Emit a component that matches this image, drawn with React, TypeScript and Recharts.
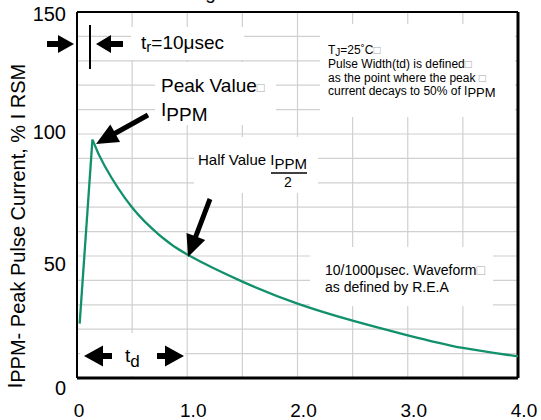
import React from "react";
import { LineChart, Line, XAxis, YAxis, CartesianGrid, ReferenceLine } from "recharts";

// pulse waveform: time in ms, current in % of IPPM
// rising edge (straight) and decaying tail (smooth) share the peak point
const riseTime = [0.024, 0.14];
const riseCurrent = [22.3, 97.7];
const decayTime = [0.14, 0.25, 0.5, 0.75, 1.0, 1.5, 2.0, 2.5, 3.0, 3.5, 4.0];
const decayCurrent = [97.7, 87, 69.9, 58.5, 50.6, 39.5, 30.5, 23.5, 17.5, 12.3, 8.9];

const xTicks = [0, 0.5, 1, 1.5, 2, 2.5, 3, 3.5, 4];
const xLabels = ["0", "", "1.0", "", "2.0", "", "3.0", "", "4.0"];
const yTicks = [0, 10, 20, 30, 40, 50, 60, 70, 80, 90, 100, 110, 120, 130, 140, 150];
const yLabels = ["0", "50", "100", "150"];

const riseData = riseTime.map((t, i) => ({ t, pct: riseCurrent[i] }));
const decayData = decayTime.map((t, i) => ({ t, pct: decayCurrent[i] }));

const FONT = "Liberation Sans, Arial, sans-serif";
const CURVE = "#11906c";
const GRID = "#d0d0d0";

// the labels in the original sit a little off their grid lines
const yNudge: Record<string, number> = { "0": 10, "50": 8, "100": -2, "150": 2 };

const XTick = (props: any) => {
  const i = xTicks.indexOf(props.payload.value);
  const label = xLabels[i];
  if (!label) return <g />;
  return (
    <text x={props.x + (label === "0" ? 2 : 6)} y={417} textAnchor="middle" fontSize={19} fontFamily={FONT} fill="#000">
      {label}
    </text>
  );
};

const YTick = (props: any) => {
  const label = String(props.payload.value);
  if (!yLabels.includes(label)) return <g />;
  return (
    <text x={66} y={props.y + yNudge[label]} dy="0.35em" textAnchor="end" fontSize={20} fontFamily={FONT} fill="#000">
      {label}
    </text>
  );
};

// filled block arrow from tail (x1,y1) to tip (x2,y2)
function arrow(x1: number, y1: number, x2: number, y2: number, shaft: number, headLen: number, headW: number) {
  const dx = x2 - x1;
  const dy = y2 - y1;
  const len = Math.hypot(dx, dy);
  const ux = dx / len;
  const uy = dy / len;
  const nx = -uy;
  const ny = ux;
  const bx = x2 - ux * headLen;
  const by = y2 - uy * headLen;
  const p = (x: number, y: number) => `${x.toFixed(1)},${y.toFixed(1)}`;
  return [
    p(x1 + nx * shaft / 2, y1 + ny * shaft / 2),
    p(bx + nx * shaft / 2, by + ny * shaft / 2),
    p(bx + nx * headW / 2, by + ny * headW / 2),
    p(x2, y2),
    p(bx - nx * headW / 2, by - ny * headW / 2),
    p(bx - nx * shaft / 2, by - ny * shaft / 2),
    p(x1 - nx * shaft / 2, y1 - ny * shaft / 2),
  ].join(" ");
}

function Annotations() {
  return (
    <svg width={541} height={420} style={{ position: "absolute", left: 0, top: 0, pointerEvents: "none", overflow: "hidden" }} fontFamily={FONT}>
      {/* title, only its descender shows inside the picture */}
      <text x={302} y={-1} textAnchor="middle" fontSize={19} fill="#000">
        Figure 3 - Pulse Waveform
      </text>

      {/* white boxes behind the notes */}
      <rect x={131} y={27} width={113} height={33} fill="#fff" />
      <rect x={155} y={62} width={121} height={63} fill="#fff" />
      <rect x={194} y={137} width={124} height={56} fill="#fff" />
      <rect x={320} y={24} width={195} height={93} fill="#fff" />
      <rect x={310} y={247} width={183} height={59} fill="#fff" />
      <rect x={80} y={333} width={105} height={43} fill="#fff" />

      {/* rise time marker */}
      <polygon points={arrow(47, 44, 74, 44, 6, 16, 18)} fill="#000" />
      <line x1={90} y1={25} x2={90} y2={69} stroke="#000" strokeWidth={2} />
      <polygon points={arrow(123, 44, 96, 44, 6, 15, 18)} fill="#000" />
      <text x={141} y={49} fontSize={19} fill="#000">
        t<tspan fontSize={15} dy={3}>r</tspan>
        <tspan dy={-3}>=10μsec</tspan>
      </text>

      {/* peak value */}
      <text x={161} y={92} fontSize={19} fill="#000">
        Peak Value<tspan fontSize={13} fill="#aaa">□</tspan>
      </text>
      <text x={161} y={116} fontSize={19} fill="#000">
        I<tspan dy={5}>PPM</tspan>
      </text>
      <polygon points={arrow(148, 115, 96, 144, 5, 22, 20)} fill="#000" />

      {/* half value */}
      <text x={198} y={165} fontSize={15} fill="#000">
        Half Value I<tspan dy={4}>PPM</tspan>
      </text>
      <line x1={271} y1={173} x2={307} y2={173} stroke="#000" strokeWidth={1.3} />
      <text x={288} y={187} textAnchor="middle" fontSize={14} fill="#000">2</text>
      <polygon points={arrow(210, 199, 188, 257, 5, 22, 20)} fill="#000" />

      {/* conditions */}
      <text x={328} y={54} fontSize={12} fill="#000">
        T<tspan fontSize={10} dy={2}>J</tspan>
        <tspan dy={-2}>=25˚C</tspan>
        <tspan fill="#aaa">□</tspan>
      </text>
      <text x={328} y={68} fontSize={12} fill="#000">
        Pulse Width(td) is defined<tspan fill="#aaa">□</tspan>
      </text>
      <text x={328} y={82} fontSize={12} fill="#000">
        as the point where the peak <tspan fill="#aaa">□</tspan>
      </text>
      <text x={328} y={95} fontSize={12} fill="#000">
        current decays to 50% of I<tspan fontSize={13} dy={2}>PPM</tspan>
      </text>

      {/* waveform note */}
      <text x={325} y={275} fontSize={14} fill="#000">
        10/1000μsec. Waveform<tspan fill="#aaa">□</tspan>
      </text>
      <text x={325} y={291.5} fontSize={14} fill="#000">
        as defined by R.E.A
      </text>

      {/* pulse width marker */}
      <polygon points={arrow(112, 356, 84, 356, 6, 19, 21)} fill="#000" />
      <text x={125} y={362} fontSize={19} fill="#000">
        t<tspan fontSize={17} dy={5}>d</tspan>
      </text>
      <polygon points={arrow(157, 356, 184, 356, 6, 19, 21)} fill="#000" />

      {/* y axis title */}
      <text transform="translate(25,226) rotate(-90)" textAnchor="middle" fontSize={20} fill="#000">
        <tspan dy={-3}>I</tspan>
        <tspan dy={3}>PPM</tspan>- Peak Pulse Current, % I RSM
      </text>
    </svg>
  );
}

export default function App() {
  return (
    <div style={{ position: "absolute", left: 0, top: 0, width: 541, height: 420, background: "#fff" }}>
      <LineChart width={541} height={420} margin={{ top: 12, right: 23, bottom: 0, left: 17 }}>
        <CartesianGrid stroke={GRID} strokeWidth={1.2} />
        <XAxis
          type="number"
          dataKey="t"
          domain={[0, 4]}
          ticks={xTicks}
          interval={0}
          height={42}
          tick={<XTick />}
          tickLine={false}
          axisLine={{ stroke: "#000", strokeWidth: 3 }}
        />
        <YAxis
          type="number"
          domain={[0, 150]}
          ticks={yTicks}
          interval={0}
          width={60}
          tick={<YTick />}
          tickLine={false}
          axisLine={{ stroke: "#000", strokeWidth: 2 }}
        />
        <ReferenceLine y={150} stroke="#000" strokeWidth={2} />
        <ReferenceLine x={4} stroke="#000" strokeWidth={3} />
        <Line data={riseData} type="linear" dataKey="pct" stroke={CURVE} strokeWidth={2.3} dot={false} isAnimationActive={false} />
        <Line data={decayData} type="natural" dataKey="pct" stroke={CURVE} strokeWidth={2.3} dot={false} isAnimationActive={false} />
      </LineChart>
      <Annotations />
    </div>
  );
}
